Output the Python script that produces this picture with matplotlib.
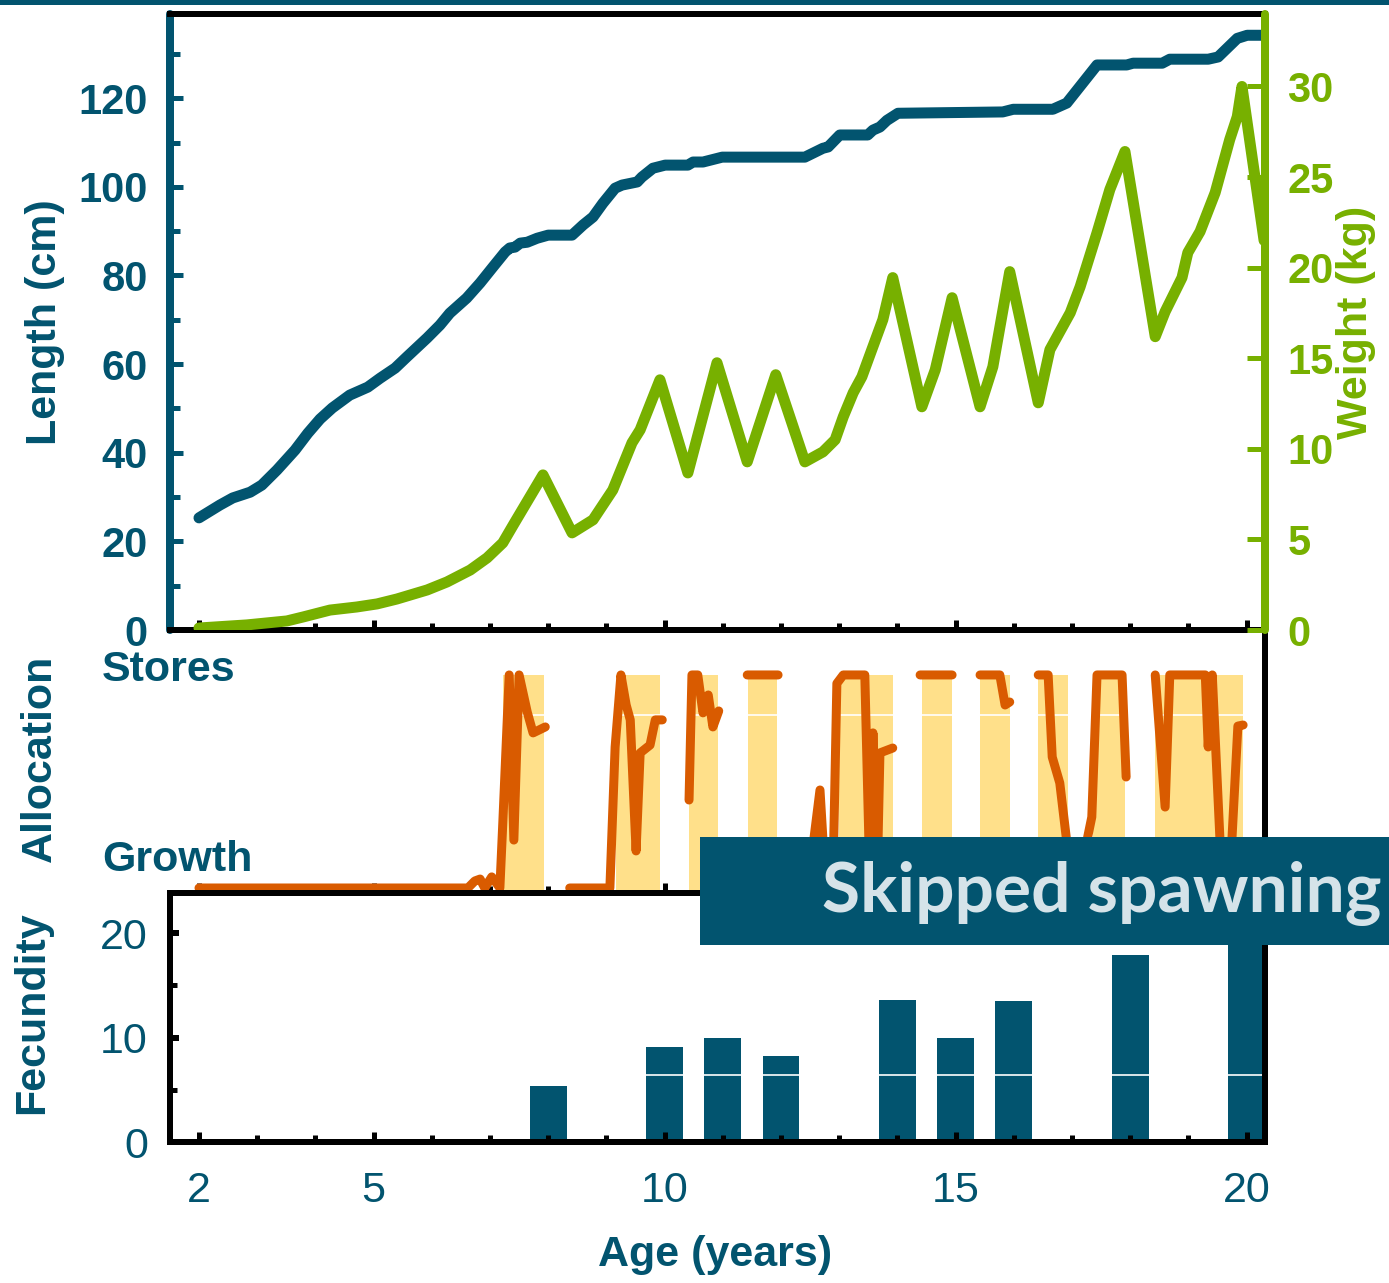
import numpy as np
import matplotlib
matplotlib.use("Agg")
import matplotlib.pyplot as plt
from matplotlib.patches import Rectangle

plt.rcParams["font.family"] = ["Liberation Sans", "DejaVu Sans"]

# ---- data -------------------------------------------------------------
length_age = [2.0, 2.36, 2.58, 2.88, 3.08, 3.34, 3.65, 3.87, 4.08, 4.29, 4.59, 4.90,
              5.11, 5.37, 5.57, 5.92, 6.14, 6.31, 6.60, 6.83, 7.05, 7.26, 7.34, 7.43,
              7.52, 7.64, 7.81, 8.00, 8.41, 8.60, 8.77, 8.94, 9.15, 9.27, 9.53, 9.61,
              9.80, 10.01, 10.40, 10.49, 10.66, 10.99, 12.41, 12.72, 12.81, 13.01,
              13.49, 13.58, 13.70, 13.82, 14.01, 15.81, 15.99, 16.67, 16.91, 17.43,
              17.94, 18.05, 18.55, 18.68, 19.34, 19.51, 19.84, 20.01, 20.3]
length_cm = [25.3, 28.2, 29.8, 31.1, 32.7, 36.1, 40.6, 44.4, 47.6, 50.1, 53.0, 54.8,
             56.8, 59.1, 61.6, 65.9, 68.8, 71.5, 74.9, 78.3, 81.9, 85.3, 86.2, 86.4,
             87.3, 87.5, 88.4, 89.1, 89.1, 91.4, 93.2, 96.3, 99.7, 100.4, 101.1, 102.2,
             104.2, 104.9, 104.9, 105.6, 105.6, 106.7, 106.7, 108.7, 109.0, 111.7,
             111.7, 112.8, 113.5, 115.0, 116.6, 116.9, 117.5, 117.5, 118.9, 127.5,
             127.5, 127.9, 127.9, 128.8, 128.8, 129.3, 133.5, 134.2, 134.2]

weight_age = [2.0, 2.82, 3.51, 3.79, 4.25, 4.71, 5.06, 5.40, 5.92, 6.26, 6.66, 6.95,
              7.22, 7.40, 7.91, 8.41, 8.55, 8.77, 9.11, 9.44, 9.58, 9.92, 10.40, 10.90,
              11.42, 11.91, 12.41, 12.72, 12.93, 13.07, 13.24, 13.39, 13.56, 13.75,
              13.92, 14.42, 14.65, 14.94, 15.42, 15.64, 15.93, 16.42, 16.62, 16.97,
              17.14, 17.43, 17.65, 17.91, 18.43, 18.60, 18.89, 18.99, 19.20, 19.46,
              19.71, 19.84, 19.92, 20.3]
weight_kg = [0.11, 0.28, 0.50, 0.72, 1.10, 1.27, 1.44, 1.71, 2.21, 2.65, 3.31, 3.98,
             4.81, 5.80, 8.56, 5.36, 5.64, 6.08, 7.73, 10.33, 11.05, 13.81, 8.67, 14.75,
             9.28, 14.09, 9.28, 9.83, 10.50, 11.77, 13.09, 13.98, 15.47, 17.13,
             19.45, 12.32, 14.36, 18.34, 12.32, 14.53, 19.78, 12.54, 15.47, 17.51,
             18.95, 21.93, 24.31, 26.41, 16.19, 17.57, 19.45, 20.83, 21.99, 24.14,
             27.07, 28.34, 30.0, 21.5]

# allocation: 0 = growth, 1 = stores (nan breaks the trace)
nan = np.nan
alloc_age = [2.00, 6.62, 6.74, 6.83, 6.91, 7.03, 7.12, 7.17, 7.22, 7.33, 7.41, 7.50,
             7.64, 7.74, 7.95, nan,
             8.37, 9.06, 9.15, 9.25, 9.34, 9.41, 9.51, 9.58, 9.75, 9.84, 9.96, nan,
             10.42, 10.47, 10.57, 10.66, 10.75, 10.83, 10.93, nan,
             11.42, 11.95, nan,
             12.46, 12.67, 12.77, 12.89, 12.96, 13.07, 13.44, 13.53, 13.58, 13.65,
             13.70, 13.92, nan,
             14.39, 14.94, nan,
             15.42, 15.76, 15.85, 15.93, nan,
             16.42, 16.59, 16.66, 16.79, 16.90, 16.97, 17.22, 17.27, 17.34, 17.43,
             17.86, 17.93, nan,
             18.43, 18.60, 18.68, 19.29, 19.34, 19.41, 19.54, 19.61, 19.70, 19.75,
             19.85, 19.94]
alloc_val = [0.0, 0.0, 0.033, 0.042, 0.0, 0.052, 0.019, 0.0, 0.305, 1.0, 0.225, 1.0,
             0.826, 0.728, 0.756, nan,
             0.0, 0.0, 0.662, 1.0, 0.859, 0.789, 0.174, 0.634, 0.671, 0.789, 0.789, nan,
             0.413, 1.0, 1.0, 0.822, 0.906, 0.756, 0.831, nan,
             1.0, 1.0, nan,
             0.0, 0.46, 0.0, 0.0, 0.96, 1.0, 1.0, 0.0, 0.728, 0.0,
             0.634, 0.657, nan,
             1.0, 1.0, nan,
             1.0, 1.0, 0.859, 0.873, nan,
             1.0, 1.0, 0.615, 0.493, 0.24, 0.0, 0.0, 0.24, 0.333, 1.0,
             1.0, 0.521, nan,
             1.0, 0.38, 1.0, 1.0, 0.662, 1.0, 0.24, 0.0, 0.0, 0.24,
             0.76, 0.765]

store_start = [7.22, 9.17, 10.42, 11.43, 13.00, 14.42, 15.42, 16.42, 17.36, 18.43]
store_end = [7.93, 9.92, 10.92, 11.93, 13.92, 14.94, 15.93, 16.93, 17.91, 19.94]

spawn_age = [8, 10, 11, 12, 14, 15, 16, 18, 20]
fecundity = [5.4, 9.1, 10.0, 8.2, 13.6, 10.0, 13.5, 17.9, 22.0]

age_ticks = [2, 5, 10, 15, 20]
length_ticks = [0, 20, 40, 60, 80, 100, 120]
weight_ticks = [0, 5, 10, 15, 20, 25, 30]
fec_ticks = [0, 10, 20]

# ---- style -------------------------------------------------------------
BLUE = "#02546F"
GREEN = "#77B000"
ORANGE = "#D95B00"
YELLOW = "#FFE08A"
BANNER_TXT = "#D5E3E9"
W, H = 1389, 1283
PX = 72 / 100  # points per pixel


def box(left, top, right, bottom):
    return [left / W, 1 - bottom / H, (right - left) / W, (bottom - top) / H]


def fxy(x, y):
    return x / W, 1 - y / H


fig = plt.figure(figsize=(W / 100, H / 100), dpi=100)
XLIM = (1.502, 20.316)

ax_top = fig.add_axes(box(170, 14, 1265, 630))
ax_mid = fig.add_axes(box(170, 630, 1265, 893))
ax_bot = fig.add_axes(box(170, 893, 1265, 1142))
ax_w = ax_top.twinx()

for ax in (ax_top, ax_mid, ax_bot, ax_w):
    ax.set_xlim(*XLIM)
    ax.set_facecolor("none")

# ---- top panel: length and weight ------------------------------------
ax_top.plot(length_age, length_cm, color=BLUE, lw=11 * PX,
            solid_capstyle="round", solid_joinstyle="round", zorder=3)
ax_w.plot(weight_age, weight_kg, color=GREEN, lw=11 * PX,
          solid_capstyle="round", solid_joinstyle="round", zorder=3)
ax_top.set_ylim(0, 139)
ax_w.set_ylim(0, 34.0)

ax_top.spines["left"].set_color(BLUE)
ax_top.spines["left"].set_linewidth(8 * PX)
ax_top.spines["left"].set_capstyle("round")
for s in ("top", "bottom"):
    ax_top.spines[s].set_color("black")
    ax_top.spines[s].set_linewidth(6 * PX)
ax_top.spines["right"].set_visible(False)
for s in ("left", "top", "bottom"):
    ax_w.spines[s].set_visible(False)
ax_w.spines["right"].set_color(GREEN)
ax_w.spines["right"].set_linewidth(8 * PX)
ax_w.spines["right"].set_capstyle("round")

ax_top.set_yticks(length_ticks)
ax_top.set_yticks(np.arange(10, 140, 20), minor=True)
ax_top.tick_params(axis="y", which="major", direction="in", length=13 * PX,
                   width=5 * PX, color=BLUE, labelcolor=BLUE, labelsize=30,
                   pad=16)
ax_top.tick_params(axis="y", which="minor", direction="in", length=10 * PX,
                   width=5 * PX, color=BLUE)
for lab in ax_top.get_yticklabels():
    lab.set_fontweight("bold")

ax_w.set_yticks(weight_ticks)
ax_w.tick_params(axis="y", which="major", direction="in", length=18 * PX,
                 width=5 * PX, color=GREEN, labelcolor=GREEN, labelsize=30,
                 pad=16)
for lab in ax_w.get_yticklabels():
    lab.set_fontweight("bold")

ax_top.set_xticks(age_ticks)
ax_top.set_xticks(range(3, 21), minor=True)
ax_top.tick_params(axis="x", which="major", direction="in", length=10 * PX,
                   width=5 * PX, color="black", labelbottom=False)
ax_top.tick_params(axis="x", which="minor", direction="in", length=7 * PX,
                   width=5 * PX, color="black")

# ---- middle panel: allocation ------------------------------------------
ax_mid.set_ylim(-0.0235, 1.211)
for a, b in zip(store_start, store_end):
    ax_mid.bar(a, 1.0 + 0.0235, bottom=-0.0235, width=b - a, align="edge",
               color=YELLOW, lw=0, zorder=1)
ax_mid.axhline(0.81, color="white", lw=1.2, zorder=1.5)
ax_mid.plot(alloc_age, alloc_val, color=ORANGE, lw=9 * PX,
            solid_capstyle="round", solid_joinstyle="round", zorder=3)
for s in ("left", "top", "bottom"):
    ax_mid.spines[s].set_visible(False)
ax_mid.spines["right"].set_color("black")
ax_mid.spines["right"].set_linewidth(6 * PX)
ax_mid.set_yticks([])
ax_mid.set_xticks(age_ticks)
ax_mid.set_xticks(range(3, 21), minor=True)
ax_mid.tick_params(axis="x", which="major", direction="in", length=10 * PX,
                   width=5 * PX, color="black", labelbottom=False)
ax_mid.tick_params(axis="x", which="minor", direction="in", length=7 * PX,
                   width=5 * PX, color="black")

# ---- bottom panel: fecundity --------------------------------------------
ax_bot.set_ylim(0, 23.83)
ax_bot.bar(spawn_age, fecundity, width=0.63, color=BLUE, lw=0, zorder=1)
ax_bot.axhline(6.4, color="white", lw=1.2, zorder=1.5)
for s in ax_bot.spines.values():
    s.set_color("black")
    s.set_linewidth(6 * PX)
ax_bot.set_yticks(fec_ticks)
ax_bot.set_yticks([5, 15], minor=True)
ax_bot.tick_params(axis="y", which="major", direction="in", length=9 * PX,
                   width=6 * PX, color="black", labelcolor=BLUE, labelsize=31,
                   pad=16)
ax_bot.tick_params(axis="y", which="minor", direction="in", length=7 * PX,
                   width=5 * PX, color="black")
ax_bot.set_xticks(age_ticks)
ax_bot.set_xticks(range(3, 21), minor=True)
ax_bot.tick_params(axis="x", which="major", direction="in", length=10 * PX,
                   width=5 * PX, color="black", labelcolor=BLUE, labelsize=31,
                   pad=21)
ax_bot.tick_params(axis="x", which="minor", direction="in", length=7 * PX,
                   width=5 * PX, color="black")

# ---- labels ---------------------------------------------------------------
bold = dict(fontweight="bold", fontsize=31)
fig.text(*fxy(45, 322), "Length (cm)", color=BLUE, rotation=90,
         ha="center", va="center", **bold)
fig.text(*fxy(1356, 322), "Weight (kg)", color=GREEN, rotation=90,
         ha="center", va="center", **bold)
fig.text(*fxy(40, 758), "Allocation", color=BLUE, rotation=90,
         ha="center", va="center", **bold)
fig.text(*fxy(32, 1013), "Fecundity", color=BLUE, rotation=90,
         ha="center", va="center", **bold)
fig.text(*fxy(102, 670), "Stores", color=BLUE, ha="left", va="center", **bold)
fig.text(*fxy(102, 860), "Growth", color=BLUE, ha="left", va="center", **bold)
fig.text(*fxy(715, 1255), "Age (years)", color=BLUE, ha="center",
         va="center", **bold)

# header rule and banner
fig.patches.append(Rectangle(fxy(0, 5), 1, 5 / H, transform=fig.transFigure,
                             color=BLUE, lw=0, zorder=5))
fig.patches.append(Rectangle(fxy(700, 945), (W - 700) / W, 108 / H,
                             transform=fig.transFigure, color="#02546F",
                             lw=0, zorder=5))
fig.text(*fxy(1381, 893), "Skipped spawning", color=BANNER_TXT,
         ha="right", va="center", fontsize=50, fontweight="bold",
         family=["Lato", "DejaVu Sans"], zorder=6)

fig.savefig("out.png", dpi=100)
